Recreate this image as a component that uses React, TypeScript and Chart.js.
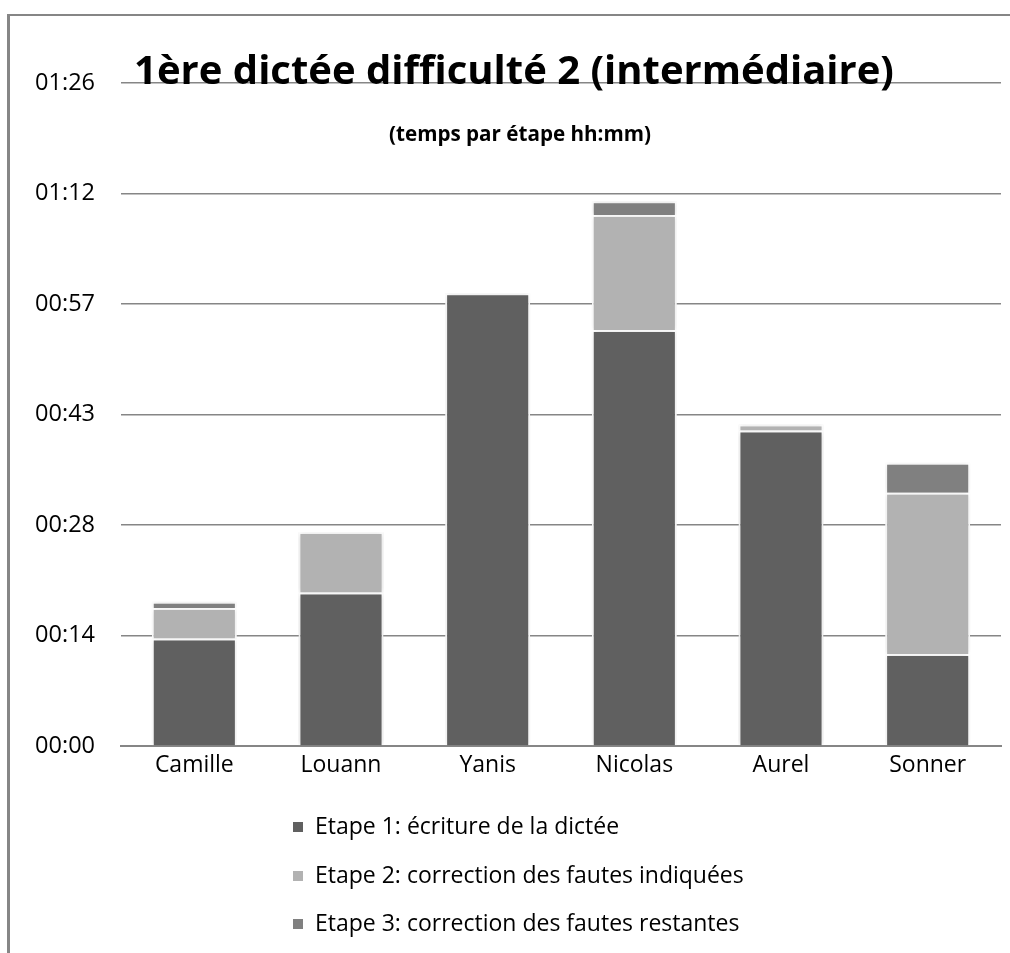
import React, { useEffect, useRef } from "react";
import { Chart, registerables } from "chart.js";

Chart.register(...registerables);

// ---- data (minutes) ----
const categories = ["Camille", "Louann", "Yanis", "Nicolas", "Aurel", "Sonner"];
const etape1 = [14, 20, 59, 54.2, 41.1, 12];
const etape2 = [4, 7.9, 0, 15, 0.8, 21];
const etape3 = [0.8, 0, 0, 1.8, 0, 3.9];
const seriesLabels = [
  "Etape 1: écriture de la dictée",
  "Etape 2: correction des fautes indiquées",
  "Etape 3: correction des fautes restantes",
];
const seriesColors = ["#606060", "#b2b2b2", "#808080"];
const yTickValues = [0, 14.4, 28.8, 43.2, 57.6, 72, 86.4];
const titleText = "1ère dictée difficulté 2 (intermédiaire)";
const subtitleText = "(temps par étape hh:mm)";

const FONT = "'Open Sans', Lato, sans-serif";

function fmt(v: number): string {
  const total = Math.floor(v + 1e-6);
  const h = Math.floor(total / 60);
  const m = total % 60;
  return String(h).padStart(2, "0") + ":" + String(m).padStart(2, "0");
}

function fitFont(ctx: CanvasRenderingContext2D, text: string, weight: string, target: number) {
  ctx.font = weight + " 40px " + FONT;
  const w = ctx.measureText(text).width;
  const size = (40 * target) / w;
  ctx.font = weight + " " + size.toFixed(2) + "px " + FONT;
}

const framePlugin = {
  id: "frame",
  beforeDraw(chart: any) {
    const ctx = chart.ctx;
    ctx.save();
    ctx.fillStyle = "#ffffff";
    ctx.fillRect(0, 0, chart.width, chart.height);
    ctx.fillStyle = "#868686";
    ctx.fillRect(7, 14, 3, chart.height - 14);
    ctx.fillRect(7, 14, chart.width - 7, 2);
    ctx.restore();
  },
};

const shadowPlugin = {
  id: "barShadow",
  beforeDatasetsDraw(chart: any) {
    const ctx = chart.ctx;
    ctx.save();
    ctx.shadowColor = "rgba(0,0,0,0.16)";
    ctx.shadowBlur = 5;
  },
  afterDatasetsDraw(chart: any) {
    chart.ctx.restore();
  },
};

const textPlugin = {
  id: "texts",
  afterDraw(chart: any) {
    const ctx = chart.ctx;
    ctx.save();
    ctx.fillStyle = "#000000";
    ctx.textAlign = "center";
    ctx.textBaseline = "alphabetic";
    fitFont(ctx, titleText, "bold", 760);
    ctx.fillText(titleText, 514, 84);
    fitFont(ctx, subtitleText, "bold", 262);
    ctx.textBaseline = "middle";
    ctx.fillText(subtitleText, 520, 135);
    // legend
    ctx.textAlign = "left";
    ctx.font = "23px " + FONT;
    const rows = [827, 876, 924];
    seriesLabels.forEach((lab, i) => {
      ctx.fillStyle = seriesColors[i];
      ctx.fillRect(293, rows[i] - 5, 10, 10);
      ctx.fillStyle = "#000000";
      ctx.fillText(lab, 315, rows[i]);
    });
    ctx.restore();
  },
};

export default function App() {
  const ref = useRef<HTMLCanvasElement>(null);
  useEffect(() => {
    const chart = new Chart(ref.current as HTMLCanvasElement, {
      type: "bar",
      data: {
        labels: categories,
        datasets: [etape1, etape2, etape3].map((d, i) => ({
          label: seriesLabels[i],
          data: d,
          backgroundColor: seriesColors[i],
          borderColor: "#ffffff",
          borderWidth: 2,
          categoryPercentage: 1,
          barPercentage: 0.58,
        })),
      },
      options: {
        animation: false,
        responsive: false,
        devicePixelRatio: 1,
        layout: { padding: { top: 83, right: 9, bottom: 167, left: 0 } },
        plugins: {
          legend: { display: false },
          title: { display: false },
          tooltip: { enabled: false },
        },
        scales: {
          x: {
            stacked: true,
            grid: { display: false, drawTicks: false },
            border: { display: true, color: "#868686", width: 2 },
            ticks: { color: "#000000", font: { family: FONT, size: 23 }, padding: 6 },
            afterFit(scale: any) {
              scale.height = 40;
            },
          },
          y: {
            stacked: true,
            min: 0,
            max: 86.4,
            afterBuildTicks(scale: any) {
              scale.ticks = yTickValues.map((v) => ({ value: v }));
            },
            afterFit(scale: any) {
              scale.width = 121;
            },
            grid: { color: "#868686", lineWidth: 1.5, drawTicks: false },
            border: { display: false },
            ticks: {
              color: "#000000",
              font: { family: FONT, size: 23.5 },
              padding: 26,
              callback: (v: any) => fmt(Number(v)),
            },
          },
        },
      },
      plugins: [framePlugin, shadowPlugin, textPlugin],
    });
    return () => chart.destroy();
  }, []);
  return (
    <div style={{ position: "absolute", left: 0, top: 0, width: 1010, height: 953, background: "#fff" }}>
      <canvas ref={ref} width={1010} height={953} style={{ display: "block", width: 1010, height: 953 }} />
    </div>
  );
}
